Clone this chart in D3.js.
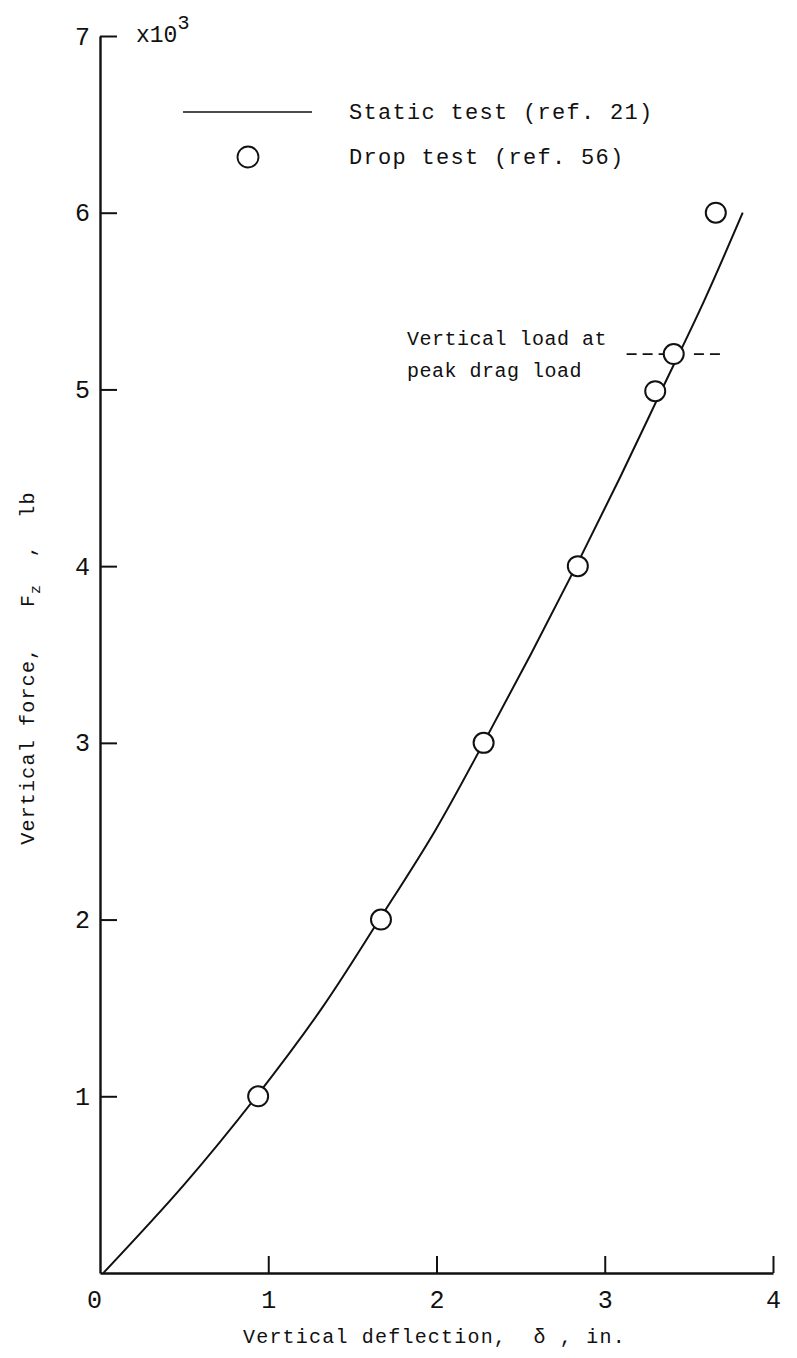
<!DOCTYPE html>
<html><head><meta charset="utf-8">
<script src="https://cdn.jsdelivr.net/npm/d3@7"></script>
<style>
body{margin:0;background:#fff;}
svg{display:block;}
text{font-family:"Liberation Mono","DejaVu Sans Mono",monospace;fill:#111;}
</style></head>
<body>
<svg id="c" width="797" height="1358"></svg>
<script>
// Static test curve (deflection in., force in 10^3 lb)
const staticDefl  = [0.02, 0.50, 0.93, 1.32, 1.66, 1.99, 2.28, 2.56, 2.83, 3.09, 3.34, 3.59, 3.82];
const staticForce = [0,    0.50, 1.0,  1.5,  2.0,  2.5,  3.0,  3.5,  4.0,  4.5,  5.0,  5.5,  6.0];
// Drop test points
const dropDefl  = [0.94, 1.67, 2.28, 2.84, 3.30, 3.41, 3.66];
const dropForce = [1.0,  2.0,  3.0,  4.0,  4.99, 5.2,  6.0];
// Ticks
const xTicks = [0, 1, 2, 3, 4];
const yTicks = [1, 2, 3, 4, 5, 6, 7];
const peakDragLoad = 5.2;
const peakDashLeft = [3.13, 3.35];
const peakDashRight = [3.53, 3.70];

const svg = d3.select("#c");
const x = d3.scaleLinear().domain([0, 4]).range([100, 773]);
const y = d3.scaleLinear().domain([0, 7]).range([1273, 36]);

const ink = "#111";

// Axes
const gx = svg.append("g").attr("transform", `translate(0,${y(0)})`)
  .call(d3.axisBottom(x).tickValues(xTicks).tickSize(-17).tickSizeOuter(0).tickPadding(17).tickFormat(d3.format("d")));
const gy = svg.append("g").attr("transform", `translate(${x(0)},0)`)
  .call(d3.axisLeft(y).tickValues(yTicks).tickSize(-17).tickSizeOuter(0).tickPadding(10).tickFormat(d3.format("d")));
[gx, gy].forEach(g => {
  g.select(".domain").attr("stroke", ink).attr("stroke-width", 2.4);
  g.selectAll(".tick line").attr("stroke", ink).attr("stroke-width", 2);
  g.selectAll(".tick text").attr("font-size", 25).attr("font-family", "'Liberation Mono',monospace").attr("fill", ink);
});
gx.selectAll(".tick").filter(d => d === 0).select("line").remove();
gx.selectAll(".tick").filter(d => d === 0).select("text").attr("dx", -6);

// x10^3 multiplier
const mult = svg.append("text").attr("x", 136).attr("y", 42).attr("font-size", 23);
mult.append("tspan").text("x10");
mult.append("tspan").attr("dy", -13).attr("font-size", 20).text("3");

// Static curve
const line = d3.line().x(d => x(d[0])).y(d => y(d[1])).curve(d3.curveCatmullRom.alpha(0.5));
svg.append("path")
  .datum(staticDefl.map((d, i) => [d, staticForce[i]]))
  .attr("d", line).attr("fill", "none").attr("stroke", ink).attr("stroke-width", 2);

// Peak drag load dashed line
[peakDashLeft, peakDashRight].forEach(seg => {
  svg.append("line")
    .attr("x1", x(seg[0])).attr("x2", x(seg[1]))
    .attr("y1", y(peakDragLoad)).attr("y2", y(peakDragLoad))
    .attr("stroke", ink).attr("stroke-width", 1.8).attr("stroke-dasharray", "10,6");
});

// Drop points
svg.append("g").selectAll("circle")
  .data(dropDefl.map((d, i) => [d, dropForce[i]]))
  .join("circle")
  .attr("cx", d => x(d[0])).attr("cy", d => y(d[1])).attr("r", 10)
  .attr("fill", "#fff").attr("stroke", ink).attr("stroke-width", 2);

// Legend
svg.append("line").attr("x1", 183).attr("x2", 312).attr("y1", 112).attr("y2", 112)
  .attr("stroke", ink).attr("stroke-width", 1.6);
svg.append("text").attr("x", 349).attr("y", 119).attr("font-size", 22).attr("letter-spacing", 1.3).text("Static test (ref. 21)");
svg.append("circle").attr("cx", 248).attr("cy", 157).attr("r", 10.5)
  .attr("fill", "#fff").attr("stroke", ink).attr("stroke-width", 1.8);
svg.append("text").attr("x", 349).attr("y", 164).attr("font-size", 22).attr("letter-spacing", 1.3).text("Drop test (ref. 56)");

// Annotation
svg.append("text").attr("x", 407).attr("y", 345).attr("font-size", 20).attr("letter-spacing", 0.5).text("Vertical load at");
svg.append("text").attr("x", 407).attr("y", 377).attr("font-size", 20).attr("letter-spacing", 0.5).text("peak drag load");

// Axis titles
svg.append("text").attr("x", 243).attr("y", 1343).attr("font-size", 20).attr("letter-spacing", 1.2)
  .style("white-space", "pre").text("Vertical deflection,  δ , in.");

const yt = svg.append("text").attr("transform", "translate(34,668) rotate(-90)")
  .attr("text-anchor", "middle").attr("font-size", 20).attr("letter-spacing", 1.2).style("white-space", "pre");
yt.append("tspan").text("Vertical force,   F");
yt.append("tspan").attr("dy", 6).attr("font-size", 15).text("z");
yt.append("tspan").attr("dy", -6).text("  ,  lb");
</script>
</body></html>
